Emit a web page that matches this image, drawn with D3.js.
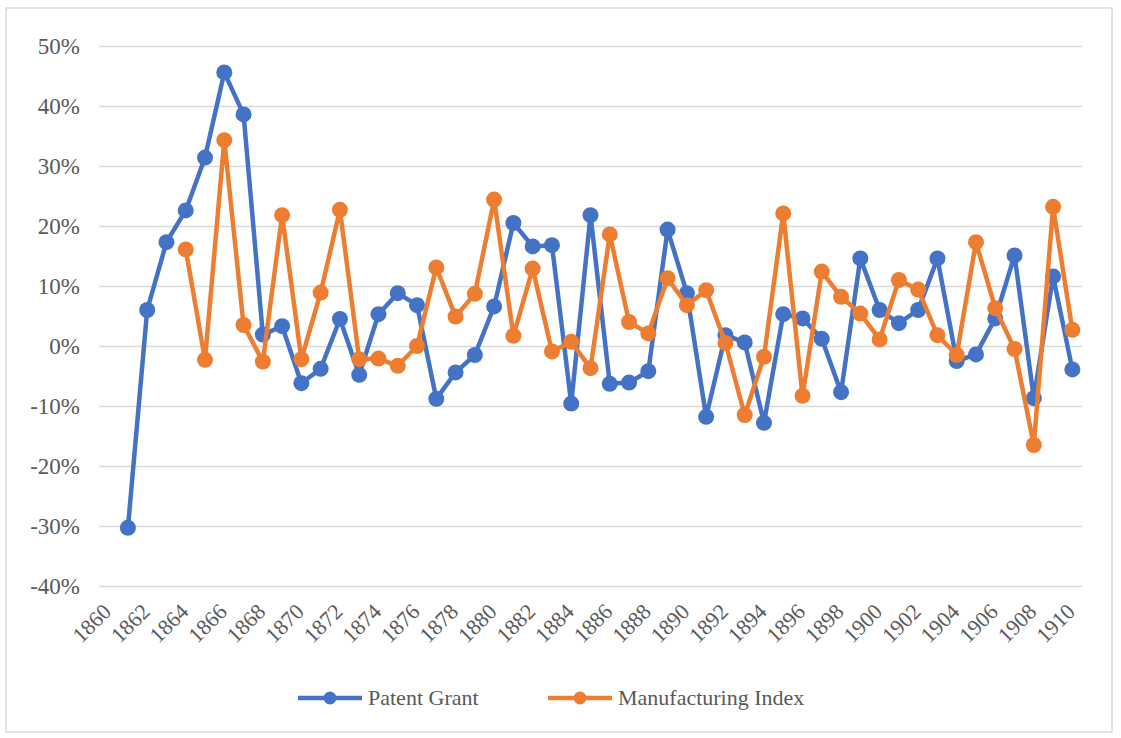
<!DOCTYPE html>
<html><head><meta charset="utf-8">
<script src="https://cdn.jsdelivr.net/npm/d3@7"></script>
<style>body{margin:0;background:#fff}svg{display:block}</style>
</head><body>
<svg id="c" width="1121" height="738"></svg>
<script>
const years = d3.range(1860, 1911);
const tickYears = d3.range(1860, 1911, 2);
const yTicks = [-0.4,-0.3,-0.2,-0.1,0,0.1,0.2,0.3,0.4,0.5];
const seriesNames = ["Patent Grant", "Manufacturing Index"];
const seriesColors = ["#4472C4", "#ED7D31"];
// null = no value
const patentGrant = [null,-30.3,6.0,17.3,22.6,31.4,45.6,38.6,1.9,3.3,-6.2,-3.8,4.5,-4.8,5.3,8.8,6.8,-8.8,-4.4,-1.5,6.6,20.5,16.6,16.8,-9.6,21.8,-6.3,-6.1,-4.2,19.4,8.8,-11.8,1.8,0.6,-12.8,5.3,4.6,1.2,-7.7,14.6,6.0,3.8,6.0,14.6,-2.5,-1.4,4.6,15.1,-8.7,11.6,-3.9];
const manufacturingIndex = [null,null,null,null,16.1,-2.3,34.3,3.5,-2.6,21.8,-2.2,8.9,22.7,-2.2,-2.1,-3.3,0.0,13.1,4.9,8.7,24.4,1.7,12.9,-0.9,0.7,-3.7,18.6,4.0,2.1,11.3,6.8,9.3,0.5,-11.5,-1.8,22.1,-8.3,12.4,8.2,5.4,1.1,11.0,9.4,1.8,-1.5,17.3,6.3,-0.5,-16.5,23.2,2.7];

const svg = d3.select("#c");
const font = "Liberation Serif, Times New Roman, serif";
svg.append("rect").attr("x",6).attr("y",8).attr("width",1106).attr("height",724)
  .attr("fill","#fff").attr("stroke","#d9d9d9").attr("stroke-width",1.5);

const x = d3.scaleBand().domain(years).range([99,1082]);
const y = d3.scaleLinear().domain([-0.4,0.5]).range([586,46]);
const cx = d => x(d) + x.bandwidth()/2;

// gridlines
const yAxis = d3.axisLeft(y).tickValues(yTicks).tickFormat(d => Math.round(d*100) + "%").tickSize(-(1082-99)).tickPadding(19);
const gy = svg.append("g").attr("transform","translate(99,0)").call(yAxis)
  .attr("font-family", font).attr("font-size", 23);
gy.select(".domain").remove();
gy.selectAll(".tick line").attr("stroke","#d9d9d9").attr("stroke-width",1.5);
gy.selectAll(".tick text").attr("fill","#595959");

// x axis labels
const xAxis = d3.axisBottom(x).tickValues(tickYears).tickSize(0).tickPadding(0);
const gx = svg.append("g").attr("transform","translate(0,586)").call(xAxis)
  .attr("font-family", font).attr("font-size", 22);
gx.select(".domain").remove();
gx.selectAll(".tick text").attr("fill","#595959")
  .attr("text-anchor","end").attr("dy",null).attr("y",null)
  .attr("transform","translate(4,27) rotate(-45)");

const series = [patentGrant, manufacturingIndex];
series.forEach((vals, i) => {
  const pts = years.map((yr, j) => ({yr, v: vals[j]})).filter(p => p.v !== null);
  const line = d3.line().x(p => cx(p.yr)).y(p => y(p.v/100));
  const g = svg.append("g");
  g.append("path").datum(pts).attr("d", line).attr("fill","none")
    .attr("stroke", seriesColors[i]).attr("stroke-width",4.5).attr("stroke-linejoin","round");
  g.selectAll("circle").data(pts).join("circle")
    .attr("cx", p => cx(p.yr)).attr("cy", p => y(p.v/100)).attr("r",8)
    .attr("fill", seriesColors[i]);
});

// legend
const legendX = [298, 548];
const lg = svg.append("g").attr("font-family", font).attr("font-size", 22);
seriesNames.forEach((n, i) => {
  const x0 = legendX[i];
  lg.append("line").attr("x1",x0).attr("x2",x0+64).attr("y1",698).attr("y2",698)
    .attr("stroke",seriesColors[i]).attr("stroke-width",4.5);
  lg.append("circle").attr("cx",x0+32).attr("cy",698).attr("r",6.5).attr("fill",seriesColors[i]);
  lg.append("text").attr("x",x0+70).attr("y",705).text(n).attr("fill","#595959");
});
</script>
</body></html>
